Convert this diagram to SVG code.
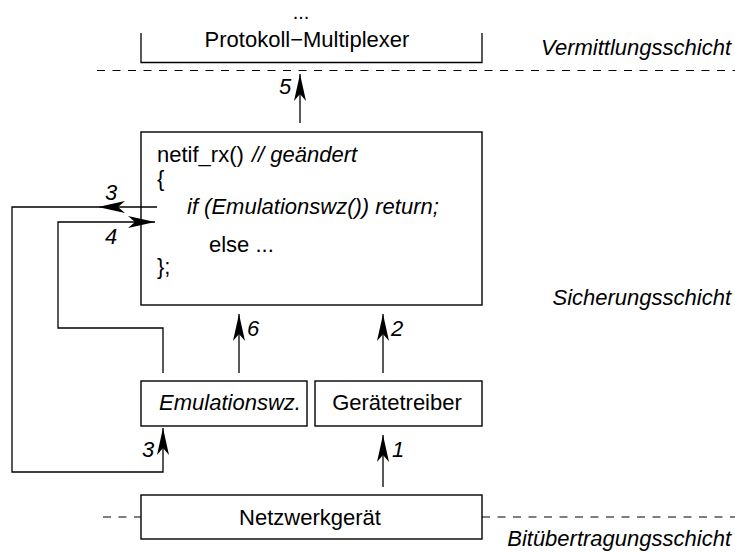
<svg xmlns="http://www.w3.org/2000/svg" width="735" height="552" viewBox="0 0 735 552">
  <style>
    .box { fill: #fff; stroke: #000; stroke-width: 1.4; }
    .edge { fill: none; stroke: #000; stroke-width: 1.3; }
    .layer { fill: none; stroke: #000; stroke-width: 1.2; stroke-dasharray: 8 7.5; }
    .t { font-family: "Liberation Sans", Arial, sans-serif; font-size: 22px; fill: #000; }
    .i { font-style: italic; }
    .num { font-family: "Liberation Sans", Arial, sans-serif; font-size: 22px; font-style: italic; fill: #000; }
    .mid { text-anchor: middle; }
    .end { text-anchor: end; }
  </style>
  <defs>
    <marker id="arrow" markerUnits="userSpaceOnUse" viewBox="-27 -7 28 14" refX="0" refY="0" markerWidth="28" markerHeight="14" orient="auto">
      <path d="M0,0 L-27,-6 L-20,0 L-27,6 Z" fill="#000"/>
    </marker>
  </defs>

  <rect width="735" height="552" fill="#fff"/>

  <!-- layer boundaries -->
  <g id="layers">
    <line class="layer" x1="97" y1="70.5" x2="735" y2="70.5"/>
    <line class="layer" x1="103" y1="517" x2="141" y2="517"/>
    <line class="layer" x1="482" y1="517" x2="735" y2="517"/>
    <text class="t i end" x="731" y="55">Vermittlungsschicht</text>
    <text class="t i end" x="731" y="305">Sicherungsschicht</text>
    <text class="t i end" x="731" y="546">Bitübertragungsschicht</text>
  </g>

  <!-- network layer -->
  <g id="multiplexer">
    <path class="edge" d="M141,33 V62.5 H482 V33"/>
    <text class="t mid" x="301" y="19" style="font-size:20px">...</text>
    <text class="t mid" x="307" y="47">Protokoll−Multiplexer</text>
  </g>

  <g id="netif_rx">
    <rect class="box" x="141" y="132" width="341" height="173"/>
    <text class="t" x="157" y="162">netif_rx()</text>
    <text class="t i" x="252" y="162">// geändert</text>
    <text class="t" x="157" y="186">{</text>
    <text class="t i" x="187" y="214">if (Emulationswz()) return;</text>
    <text class="t" x="209" y="252">else ...</text>
    <text class="t" x="157" y="274">};</text>
  </g>

  <g id="emulationswz">
    <rect class="box" x="141" y="381" width="166" height="45"/>
    <text class="t i mid" x="230" y="410">Emulationswz.</text>
  </g>

  <g id="geraetetreiber">
    <rect class="box" x="315" y="381" width="167" height="45"/>
    <text class="t mid" x="397" y="410">Gerätetreiber</text>
  </g>

  <g id="netzwerkgeraet">
    <rect class="box" x="141" y="495" width="341" height="44"/>
    <text class="t mid" x="310" y="525">Netzwerkgerät</text>
  </g>

  <!-- connectors -->
  <g id="connectors">
    <path class="edge" d="M383,487 V435" marker-end="url(#arrow)"/>
    <path class="edge" d="M383,373 V314" marker-end="url(#arrow)"/>
    <path class="edge" d="M157,207 H98" marker-end="url(#arrow)"/>
    <path class="edge" d="M98,207 H12 V472 H163 V428" marker-end="url(#arrow)"/>
    <path class="edge" d="M163,373 V328 H58 V222 H155" marker-end="url(#arrow)"/>
    <path class="edge" d="M300,123 V74" marker-end="url(#arrow)"/>
    <path class="edge" d="M239,373 V314" marker-end="url(#arrow)"/>

    <text class="num" x="392" y="457">1</text>
    <text class="num" x="391" y="336">2</text>
    <text class="num mid" x="111" y="200">3</text>
    <text class="num mid" x="148" y="457">3</text>
    <text class="num mid" x="111" y="244">4</text>
    <text class="num mid" x="285" y="94">5</text>
    <text class="num" x="247" y="336">6</text>
  </g>
</svg>
